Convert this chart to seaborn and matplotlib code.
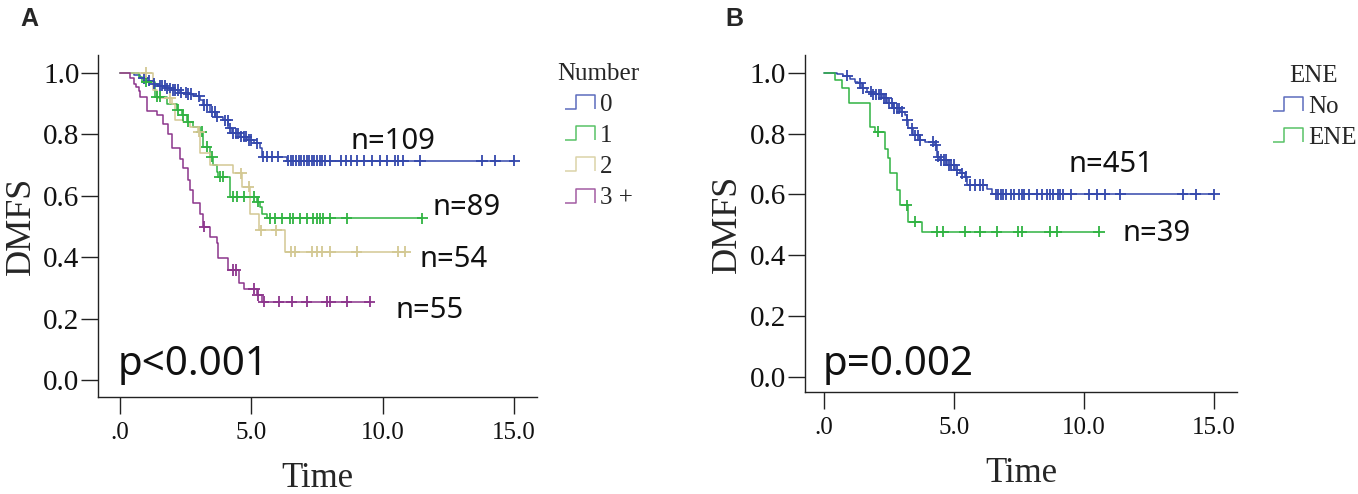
import numpy as np
import pandas as pd
import matplotlib
matplotlib.use("Agg")
import matplotlib.pyplot as plt
import seaborn as sns
from matplotlib.path import Path
from matplotlib.lines import Line2D

# --- Panel A: DMFS by number of positive nodes (step times, survival after step, censor times)
a_groups = ["0", "1", "2", "3 +"]
a_colors = ["#3448ac", "#30b342", "#d3c893", "#8c358c"]
a_n = ["n=109", "n=89", "n=54", "n=55"]

a0_t = [0.51, 0.76, 1.02, 1.27, 1.46, 1.78, 1.97, 2.28, 2.54, 2.79, 3.05, 3.17, 3.43, 3.62,
        3.93, 4.12, 4.25, 4.57, 4.82, 5.08, 5.33, 5.42, 6.35]
a0_s = [0.993, 0.982, 0.974, 0.965, 0.958, 0.949, 0.944, 0.935, 0.931, 0.924, 0.911, 0.895,
        0.873, 0.857, 0.846, 0.819, 0.803, 0.792, 0.781, 0.770, 0.754, 0.727, 0.714]
a0_c = [0.9, 1.1, 1.3, 1.5, 1.6, 1.7, 1.8, 1.9, 2.0, 2.1, 2.2, 2.3, 2.5, 2.6, 2.7, 3.0, 3.2,
        3.3, 3.5, 3.6, 3.7, 4.0, 4.1, 4.2, 4.3, 4.4, 4.5, 4.6, 4.7, 4.8, 4.9, 5.0, 5.2, 5.45,
        5.6, 5.8, 6.0, 6.4, 6.5, 6.6, 6.7, 6.8, 6.9, 7.0, 7.1, 7.2, 7.3, 7.4, 7.5, 7.6, 7.7,
        7.8, 8.0, 8.4, 8.6, 8.8, 9.0, 9.3, 9.6, 9.9, 10.16, 10.47, 10.58, 10.77, 11.42, 13.78,
        14.28, 15.0]

a1_t = [0.70, 0.82, 1.33, 1.78, 2.16, 2.35, 2.54, 2.79, 3.05, 3.17, 3.43, 3.55, 3.68, 3.74,
        4.19, 5.20, 5.33, 5.39, 5.58]
a1_s = [0.986, 0.971, 0.922, 0.900, 0.879, 0.862, 0.841, 0.824, 0.808, 0.759, 0.727, 0.700,
        0.678, 0.662, 0.597, 0.580, 0.564, 0.542, 0.526]
a1_c = [1.0, 1.4, 1.5, 2.2, 2.4, 2.6, 3.1, 3.3, 3.5, 3.8, 3.9, 4.3, 4.45, 4.7, 5.1, 5.25,
        5.71, 5.9, 6.15, 6.47, 6.6, 6.85, 7.11, 7.36, 7.49, 7.61, 7.74, 8.0, 8.63, 11.5]

a2_t = [1.27, 1.40, 1.97, 2.09, 2.41, 2.66, 2.98, 3.05, 3.43, 4.31, 4.63, 4.95, 5.27, 6.28]
a2_s = [0.944, 0.917, 0.900, 0.846, 0.841, 0.824, 0.808, 0.738, 0.700, 0.673, 0.629, 0.542,
        0.488, 0.418]
a2_c = [1.0, 1.9, 3.0, 4.6, 4.9, 5.35, 5.95, 6.5, 6.65, 7.3, 7.5, 7.7, 8.0, 9.0, 10.58, 10.85]

a3_t = [0.38, 0.51, 0.61, 0.70, 0.76, 1.02, 1.40, 1.65, 1.84, 1.97, 2.28, 2.41, 2.60, 2.66,
        2.79, 3.05, 3.17, 3.43, 3.68, 3.74, 4.12, 4.51, 4.70, 5.20, 5.39]
a3_s = [0.982, 0.965, 0.955, 0.940, 0.920, 0.875, 0.862, 0.835, 0.800, 0.754, 0.721, 0.689,
        0.651, 0.618, 0.575, 0.542, 0.499, 0.466, 0.445, 0.396, 0.358, 0.315, 0.298, 0.277,
        0.255]
a3_c = [3.2, 4.3, 4.4, 5.1, 5.25, 5.46, 6.03, 6.54, 7.1, 7.87, 8.0, 8.63, 9.5]

# --- Panel B: DMFS by extranodal extension
b_groups = ["No", "ENE"]
b_colors = ["#3448ac", "#30b342"]
b_n = ["n=451", "n=39"]

b0_t = [0.49, 0.74, 1.0, 1.19, 1.32, 1.45, 1.64, 1.90, 2.22, 2.41, 2.67, 2.92, 3.12, 3.18,
        3.24, 3.44, 3.69, 3.88, 4.27, 4.33, 4.46, 4.72, 5.04, 5.23, 5.42, 5.49, 6.26, 6.45]
b0_s = [0.995, 0.99, 0.981, 0.97, 0.965, 0.949, 0.938, 0.929, 0.916, 0.899, 0.883, 0.872,
        0.861, 0.845, 0.817, 0.795, 0.779, 0.773, 0.762, 0.724, 0.713, 0.697, 0.680, 0.669,
        0.658, 0.631, 0.617, 0.601]
b0_c = [0.9, 1.4, 1.5, 1.8, 1.9, 2.0, 2.1, 2.2, 2.3, 2.4, 2.5, 2.6, 2.7, 2.8, 2.9, 3.0, 3.2,
        3.4, 3.5, 3.6, 3.7, 4.2, 4.3, 4.4, 4.5, 4.6, 4.7, 4.8, 4.9, 5.0, 5.1, 5.3, 5.45, 5.6,
        5.8, 6.0, 6.1, 6.6, 6.7, 6.8, 6.9, 7.0, 7.2, 7.3, 7.5, 7.6, 7.7, 7.9, 8.2, 8.37, 8.57,
        8.69, 8.8, 9.0, 9.08, 9.2, 9.5, 10.2, 10.5, 10.8, 11.4, 13.8, 14.3, 15.0]

b1_t = [0.42, 0.68, 0.97, 1.77, 1.96, 2.35, 2.47, 2.54, 2.79, 2.92, 3.24, 3.76]
b1_s = [0.975, 0.949, 0.902, 0.823, 0.806, 0.751, 0.719, 0.669, 0.615, 0.565, 0.510, 0.478]
b1_c = [2.09, 3.18, 3.5, 4.33, 4.59, 5.42, 6.0, 6.64, 7.47, 7.6, 8.69, 8.95, 10.58]

a_curves = [(a0_t, a0_s, a0_c), (a1_t, a1_s, a1_c), (a2_t, a2_s, a2_c), (a3_t, a3_s, a3_c)]
b_curves = [(b0_t, b0_s, b0_c), (b1_t, b1_s, b1_c)]


def km_frames(groups, curves):
    steps, cens = [], []
    for g, (t, s, c) in zip(groups, curves):
        times = [0.0] + list(t) + [max(c)]
        surv = [1.0] + list(s) + [s[-1]]
        steps.append(pd.DataFrame({"time": times, "surv": surv, "group": g}))
        idx = np.searchsorted(times[:-1], c, side="right") - 1
        cens.append(pd.DataFrame({"time": c, "surv": np.array(surv)[idx], "group": g}))
    return pd.concat(steps, ignore_index=True), pd.concat(cens, ignore_index=True)


sns.set_theme(style="white")
plt.rcParams["font.family"] = ["Liberation Serif", "DejaVu Serif"]

fig = plt.figure(figsize=(13.58, 4.94), dpi=100)
axA = fig.add_axes([0.0724, 0.1964, 0.323, 0.6923])
axB = fig.add_axes([0.5928, 0.2065, 0.318, 0.682])

step_marker = Path([(-1.0, -0.45), (-0.25, -0.45), (-0.25, 0.45), (1.0, 0.45), (1.0, -0.45)])


def draw_panel(ax, groups, colors, curves, nlabels, npos, ptext, ppos, xlim, ylim, title,
               leg_anchor):
    steps, cens = km_frames(groups, curves)
    pal = dict(zip(groups, colors))
    sns.lineplot(data=steps, x="time", y="surv", hue="group", palette=pal, estimator=None,
                 sort=False, drawstyle="steps-post", linewidth=1.1, legend=False, ax=ax)
    sns.scatterplot(data=cens, x="time", y="surv", hue="group", palette=pal, marker="+",
                    s=65, linewidth=1.3, legend=False, ax=ax, zorder=3)
    ax.set_xlim(*xlim)
    ax.set_ylim(*ylim)
    ax.set_xticks([0, 5, 10, 15])
    ax.set_xticklabels([".0", "5.0", "10.0", "15.0"])
    ax.set_yticks([0, 0.2, 0.4, 0.6, 0.8, 1.0])
    ax.set_yticklabels(["0.0", "0.2", "0.4", "0.6", "0.8", "1.0"])
    ax.tick_params(axis="both", which="major", bottom=True, left=True, direction="out",
                   length=12, width=1.0, color="#222222", labelcolor="#111111")
    ax.tick_params(axis="x", pad=6, labelsize=18)
    ax.tick_params(axis="y", pad=1.5, labelsize=21)
    for side in ["top", "right"]:
        ax.spines[side].set_visible(False)
    for side in ["left", "bottom"]:
        ax.spines[side].set_color("#222222")
        ax.spines[side].set_linewidth(1.0)
    ax.set_xlabel("Time", fontsize=25, labelpad=13)
    ax.set_ylabel("DMFS", fontsize=26, labelpad=4)
    for lab, (x, y) in zip(nlabels, npos):
        ax.text(x, y, lab, fontsize=21, family=["Noto Sans", "DejaVu Sans"], ha="left",
                va="center", color="#111111")
    ax.text(ppos[0], ppos[1], ptext, fontsize=29, family=["Noto Sans", "DejaVu Sans"],
            ha="left", va="baseline", color="#111111")
    handles = [Line2D([], [], linestyle="None", marker=step_marker, markersize=22,
                      markerfacecolor="none", markeredgecolor=c, markeredgewidth=1.1,
                      alpha=0.8)
               for c in colors]
    leg = fig.legend(handles, groups, title=title, loc="upper left",
                     bbox_to_anchor=leg_anchor, frameon=False, fontsize=18,
                     title_fontsize=18, handlelength=1.3, handletextpad=0.15,
                     labelspacing=0.35, alignment="center")
    return leg


draw_panel(axA, a_groups, a_colors, a_curves, a_n,
           [(8.76, 0.775), (11.9, 0.563), (11.38, 0.394), (10.47, 0.228)],
           "p<0.001", (-0.08, 0.016), (-0.83, 15.87), (-0.055, 1.058), "Number",
           (535 / 1358, 1 - 40 / 494))
draw_panel(axB, b_groups, b_colors, b_curves, b_n,
           [(9.42, 0.697), (11.5, 0.473)],
           "p=0.002", (-0.04, 0.007), (-0.73, 15.88), (-0.049, 1.058), "ENE",
           (1249 / 1358, 1 - 42 / 494))

fig.text(20 / 1358, 1 - 7 / 494, "A", fontsize=18, fontweight="bold",
         family=["Liberation Sans", "DejaVu Sans"], ha="left", va="top")
fig.text(725 / 1358, 1 - 7 / 494, "B", fontsize=18, fontweight="bold",
         family=["Liberation Sans", "DejaVu Sans"], ha="left", va="top")

fig.savefig("out.png", dpi=100)
